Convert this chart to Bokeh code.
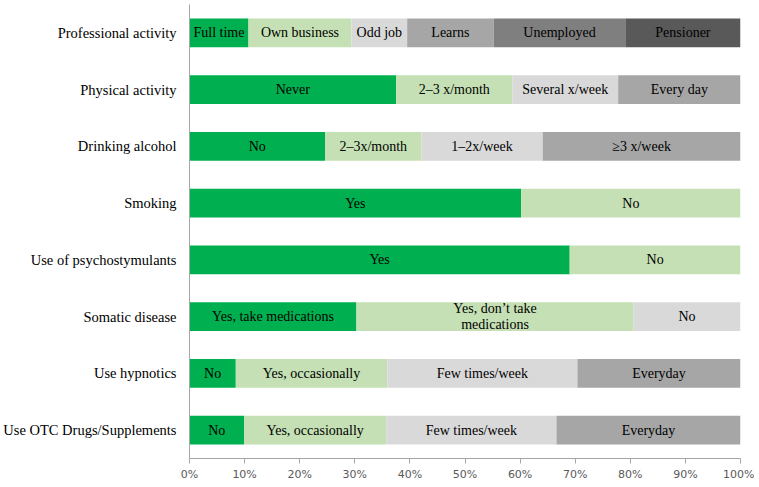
import numpy as np
from bokeh.plotting import figure
from bokeh.models import FactorRange, FixedTicker, PrintfTickFormatter, ColumnDataSource
from bokeh.core.properties import value
from bokeh.embed import file_html
from bokeh.resources import INLINE

categories = ["Professional activity", "Physical activity", "Drinking alcohol", "Smoking",
              "Use of psychostymulants", "Somatic disease", "Use hypnotics",
              "Use OTC Drugs/Supplements"]

professional_labels = ["Full time", "Own business", "Odd job", "Learns", "Unemployed", "Pensioner"]
professional_values = [10.7, 18.7, 10.1, 15.7, 23.9, 20.9]

physical_labels = ["Never", "2\u20133 x/month", "Several x/week", "Every day"]
physical_values = [37.5, 21.1, 19.2, 22.2]

alcohol_labels = ["No", "2\u20133x/month", "1\u20132x/week", "\u22653 x/week"]
alcohol_values = [24.6, 17.5, 22.0, 35.9]

smoking_labels = ["Yes", "No"]
smoking_values = [60.2, 39.8]

psycho_labels = ["Yes", "No"]
psycho_values = [69.0, 31.0]

somatic_labels = ["Yes, take medications", "Yes, don\u2019t take\nmedications", "No"]
somatic_values = [30.3, 50.3, 19.4]

hypnotics_labels = ["No", "Yes, occasionally", "Few times/week", "Everyday"]
hypnotics_values = [8.4, 27.5, 34.5, 29.6]

otc_labels = ["No", "Yes, occasionally", "Few times/week", "Everyday"]
otc_values = [9.9, 25.8, 30.9, 33.4]

x_ticks = [0, 10, 20, 30, 40, 50, 60, 70, 80, 90, 100]

palette = ["#00B050", "#C5E0B4", "#D9D9D9", "#A6A6A6", "#7F7F7F", "#595959"]

rows = [
    (categories[0], professional_labels, professional_values),
    (categories[1], physical_labels, physical_values),
    (categories[2], alcohol_labels, alcohol_values),
    (categories[3], smoking_labels, smoking_values),
    (categories[4], psycho_labels, psycho_values),
    (categories[5], somatic_labels, somatic_values),
    (categories[6], hypnotics_labels, hypnotics_values),
    (categories[7], otc_labels, otc_values),
]

data = dict(y=[], left=[], right=[], mid=[], color=[], label=[])
for cat, labels, vals in rows:
    vals = np.asarray(vals, dtype=float)
    right = np.cumsum(vals)
    left = right - vals
    for i, lab in enumerate(labels):
        data["y"].append(cat)
        data["left"].append(left[i])
        data["right"].append(right[i])
        data["mid"].append((left[i] + right[i]) / 2)
        data["color"].append(palette[i])
        data["label"].append(lab)
src = ColumnDataSource(data)

p = figure(y_range=FactorRange(factors=list(reversed(categories)), range_padding=0),
           x_range=(0, 100), frame_width=551, frame_height=454,
           min_border_left=187, min_border_right=14, min_border_top=4, min_border_bottom=21,
           output_backend="svg", toolbar_location=None)

p.hbar(y="y", left="left", right="right", height=0.51, fill_color="color",
       line_color=None, source=src)
p.text(x="mid", y="y", text="label", source=src, text_align="center",
       text_baseline="middle", text_font=value("Liberation Serif"),
       text_font_size="14px", text_color="#000000", text_line_height=1.05)

p.outline_line_color = None
p.xgrid.grid_line_color = None
p.ygrid.grid_line_color = None

xa = p.xaxis[0]
xa.ticker = FixedTicker(ticks=x_ticks)
xa.formatter = PrintfTickFormatter(format="%d%%")
xa.axis_line_color = "#A6A6A6"
xa.major_tick_line_color = "#A6A6A6"
xa.major_tick_out = 5
xa.major_tick_in = 0
xa.minor_tick_line_color = None
xa.major_label_text_font = "DejaVu Sans"
xa.major_label_text_font_size = "11px"
xa.major_label_text_color = "#595959"
xa.major_label_standoff = 4

ya = p.yaxis[0]
ya.axis_line_color = "#A6A6A6"
ya.major_tick_line_color = None
ya.major_tick_out = 0
ya.major_tick_in = 0
ya.minor_tick_line_color = None
ya.major_label_text_font = "Liberation Serif"
ya.major_label_text_font_size = "14.5px"
ya.major_label_text_color = "#000000"
ya.major_label_standoff = 13

open("out.html", "w").write(file_html(p, INLINE))
